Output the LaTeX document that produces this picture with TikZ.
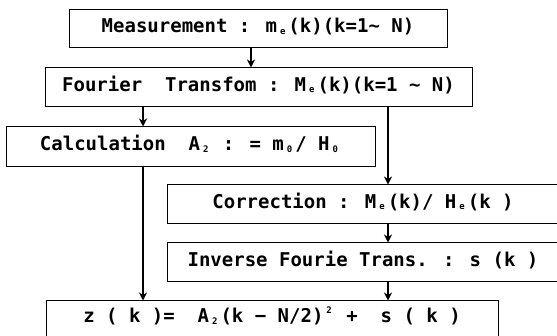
\documentclass[tikz,border=0pt]{standalone}
\usepackage{fontspec}
\usetikzlibrary{arrows.meta}
\newfontfamily\flowfont{DejaVu Sans Mono}
\newcommand\lowidx[1]{\makebox[0.6em]{\raisebox{-0.15ex}{\fontsize{9}{9}\selectfont #1}}}
\newcommand\highidx[1]{\makebox[0.6em]{\raisebox{0.9ex}{\fontsize{9}{9}\selectfont #1}}}

\begin{document}
\begin{tikzpicture}[
    x=1pt, y=-1pt,
    box/.style={draw, line width=1pt, inner sep=0pt, text height=0.73em, text depth=0pt,
                font=\flowfont\bfseries\fontsize{19}{21}\selectfont, align=center},
    arrow/.style={-{Stealth[length=8pt,width=8pt,inset=2.5pt]}, line width=1.3pt}
  ]
    \useasboundingbox (0,0) rectangle (557,336);

    %% Upper chain
    \node[box, minimum width=378pt, minimum height=38pt] (meas) at (258,29)
      {Measurement : m\lowidx{e}(k)(k=1∼ N)};
    \node[box, minimum width=427pt, minimum height=39pt] (four) at (258.5,87.5)
      {Fourier \ Transfom : M\lowidx{e}(k)(k=1 ∼ N)};
    \node[box, minimum width=369pt, minimum height=40pt] (calc) at (190.5,147)
      {Calculation \ A\lowidx{2} : = m\lowidx{0}/ H\lowidx{0}};

    %% Right branch (runs off the page)
    \node[box, minimum width=392pt, minimum height=39pt] (corr) at (363,204.5)
      {Correction : M\lowidx{e}(k)/ H\lowidx{e}(k )};
    \node[box, minimum width=392pt, minimum height=39pt] (inv) at (363,262.5)
      {Inverse Fourie Trans. : s (k )};

    %% Result
    \node[box, minimum width=452pt, minimum height=36pt] (zed) at (272,319)
      {z ( k )= \ A\lowidx{2}(k − N/2)\highidx{2} + \ s ( k )};

    %% Arrows
    \draw[arrow] ([xshift=-7pt]meas.south) -- ([xshift=-7pt]meas.south |- four.north);
    \draw[arrow] ([xshift=-47.5pt]calc.north |- four.south) -- ([xshift=-47.5pt]calc.north);
    \draw[arrow] ([xshift=25pt]corr.north |- four.south) -- ([xshift=25pt]corr.north);
    \draw[arrow] ([xshift=25pt]corr.south) -- ([xshift=25pt]inv.north);
    \draw[arrow] ([xshift=25pt]inv.south) -- ([xshift=25pt]inv.south |- zed.north);
    \draw[arrow] ([xshift=-47.5pt]calc.south) -- ([xshift=-47.5pt]calc.south |- zed.north);
  \end{tikzpicture}
\end{document}
